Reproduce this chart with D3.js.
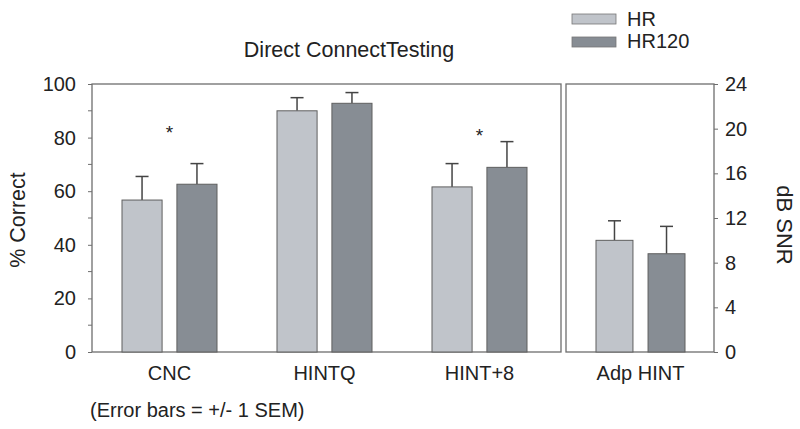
<!DOCTYPE html>
<html><head><meta charset="utf-8">
<script src="https://cdn.jsdelivr.net/npm/d3@7"></script>
<style>body{margin:0;background:#fff}svg{display:block}text{font-family:"Liberation Sans",Arial,sans-serif;fill:#222}</style>
</head><body>
<svg id="c" width="800" height="429"></svg>
<script>
const categories = ["CNC", "HINTQ", "HINT+8"];
const series = ["HR", "HR120"];
const hrValues = [56.7, 90.0, 61.6];
const hrErrors = [8.8, 4.9, 8.7];
const hr120Values = [62.6, 92.8, 68.9];
const hr120Errors = [7.7, 4.0, 9.6];
const starLevels = [83.5, null, 82.5];
const rightCategories = ["Adp HINT"];
const rightHr = [10.0];
const rightHrErr = [1.75];
const rightHr120 = [8.8];
const rightHr120Err = [2.45];
const leftTicks = [0, 20, 40, 60, 80, 100];
const leftMinor = [10, 30, 50, 70, 90];
const rightTicks = [0, 4, 8, 12, 16, 20, 24];
const colors = {HR: "#c0c4ca", HR120: "#878d94"};

const svg = d3.select("#c");
const plotTop = 84, plotBottom = 352;
const yL = d3.scaleLinear().domain([0, 100]).range([plotBottom, plotTop]);
const yR = d3.scaleLinear().domain([0, 24]).range([plotBottom, plotTop]);
const xL = d3.scaleBand().domain(categories).range([92, 557]);
const xR = d3.scaleBand().domain(rightCategories).range([566, 715]);
const innerL = d3.scaleBand().domain(series).range([0, 95]).paddingInner(0.27);
const innerR = d3.scaleBand().domain(series).range([0, 89]).paddingInner(0.29);

const frame = "#6e6e6e";
svg.append("rect").attr("x", 92).attr("y", plotTop).attr("width", 561 - 92).attr("height", plotBottom - plotTop)
  .attr("fill", "none").attr("stroke", frame).attr("stroke-width", 1.3);
svg.append("rect").attr("x", 566).attr("y", plotTop).attr("width", 714 - 566).attr("height", plotBottom - plotTop)
  .attr("fill", "none").attr("stroke", frame).attr("stroke-width", 1.3);

const gL = svg.append("g").attr("transform", "translate(92,0)");
gL.call(d3.axisLeft(yL).tickValues(leftTicks).tickSize(4).tickPadding(12).tickFormat(d3.format("d")));
gL.selectAll(".minor").data(leftMinor).enter().append("line")
  .attr("x1", -4).attr("x2", 0).attr("y1", d => yL(d)).attr("y2", d => yL(d)).attr("stroke", frame);
const gR = svg.append("g").attr("transform", "translate(714,0)");
gR.call(d3.axisRight(yR).tickValues(rightTicks).tickSize(4).tickPadding(7));
[gL, gR].forEach(g => {
  g.select(".domain").remove();
  g.selectAll(".tick line").attr("stroke", frame);
  g.selectAll(".tick text").style("font-size", "20px").attr("fill", "#222");
});

function drawBars(x, inner, y, cats, vals, errs, key) {
  const g = svg.append("g");
  const pw = inner.range()[1];
  cats.forEach((c, i) => {
    const bx = x(c) + (x.bandwidth() - pw) / 2 + inner(key);
    const bw = inner.bandwidth();
    const cx = bx + bw / 2;
    const yt = y(vals[i]), ye = y(vals[i] + errs[i]);
    g.append("line").attr("x1", cx).attr("x2", cx).attr("y1", yt).attr("y2", ye).attr("stroke", "#444").attr("stroke-width", 1.5);
    g.append("line").attr("x1", cx - 6.5).attr("x2", cx + 6.5).attr("y1", ye).attr("y2", ye).attr("stroke", "#444").attr("stroke-width", 1.5);
    g.append("rect").attr("x", bx).attr("y", yt).attr("width", bw).attr("height", y(0) - yt)
      .attr("fill", colors[key]).attr("stroke", "#5f5f5f").attr("stroke-width", 1);
  });
}
drawBars(xL, innerL, yL, categories, hrValues, hrErrors, "HR");
drawBars(xL, innerL, yL, categories, hr120Values, hr120Errors, "HR120");
drawBars(xR, innerR, yR, rightCategories, rightHr, rightHrErr, "HR");
drawBars(xR, innerR, yR, rightCategories, rightHr120, rightHr120Err, "HR120");

categories.forEach((c, i) => {
  if (starLevels[i] == null) return;
  svg.append("text").attr("x", xL(c) + xL.bandwidth() / 2).attr("y", yL(starLevels[i]) + 11)
    .attr("text-anchor", "middle").style("font-size", "19px").text("*");
});

svg.selectAll(".cl").data(categories).enter().append("text")
  .attr("x", d => xL(d) + xL.bandwidth() / 2).attr("y", 380).attr("text-anchor", "middle")
  .style("font-size", "20px").text(d => d);
svg.selectAll(".cr").data(rightCategories).enter().append("text")
  .attr("x", d => xR(d) + xR.bandwidth() / 2).attr("y", 380).attr("text-anchor", "middle")
  .style("font-size", "20px").text(d => d);

svg.append("text").attr("x", 349).attr("y", 57).attr("text-anchor", "middle").style("font-size", "21.5px").text("Direct ConnectTesting");
svg.append("text").attr("transform", "translate(25,220) rotate(-90)").attr("text-anchor", "middle").style("font-size", "21.5px").text("% Correct");
svg.append("text").attr("transform", "translate(777,225) rotate(90)").attr("text-anchor", "middle").style("font-size", "22px").text("dB SNR");
svg.append("text").attr("x", 90).attr("y", 417).style("font-size", "20px").text("(Error bars = +/- 1 SEM)");

series.forEach((s, i) => {
  svg.append("rect").attr("x", 572).attr("y", 14 + i * 23).attr("width", 44).attr("height", 10)
    .attr("fill", colors[s]).attr("stroke", "#777").attr("stroke-width", 0.8);
  svg.append("text").attr("x", 627).attr("y", 26 + i * 22).style("font-size", "20px").text(s);
});
</script>
</body></html>
